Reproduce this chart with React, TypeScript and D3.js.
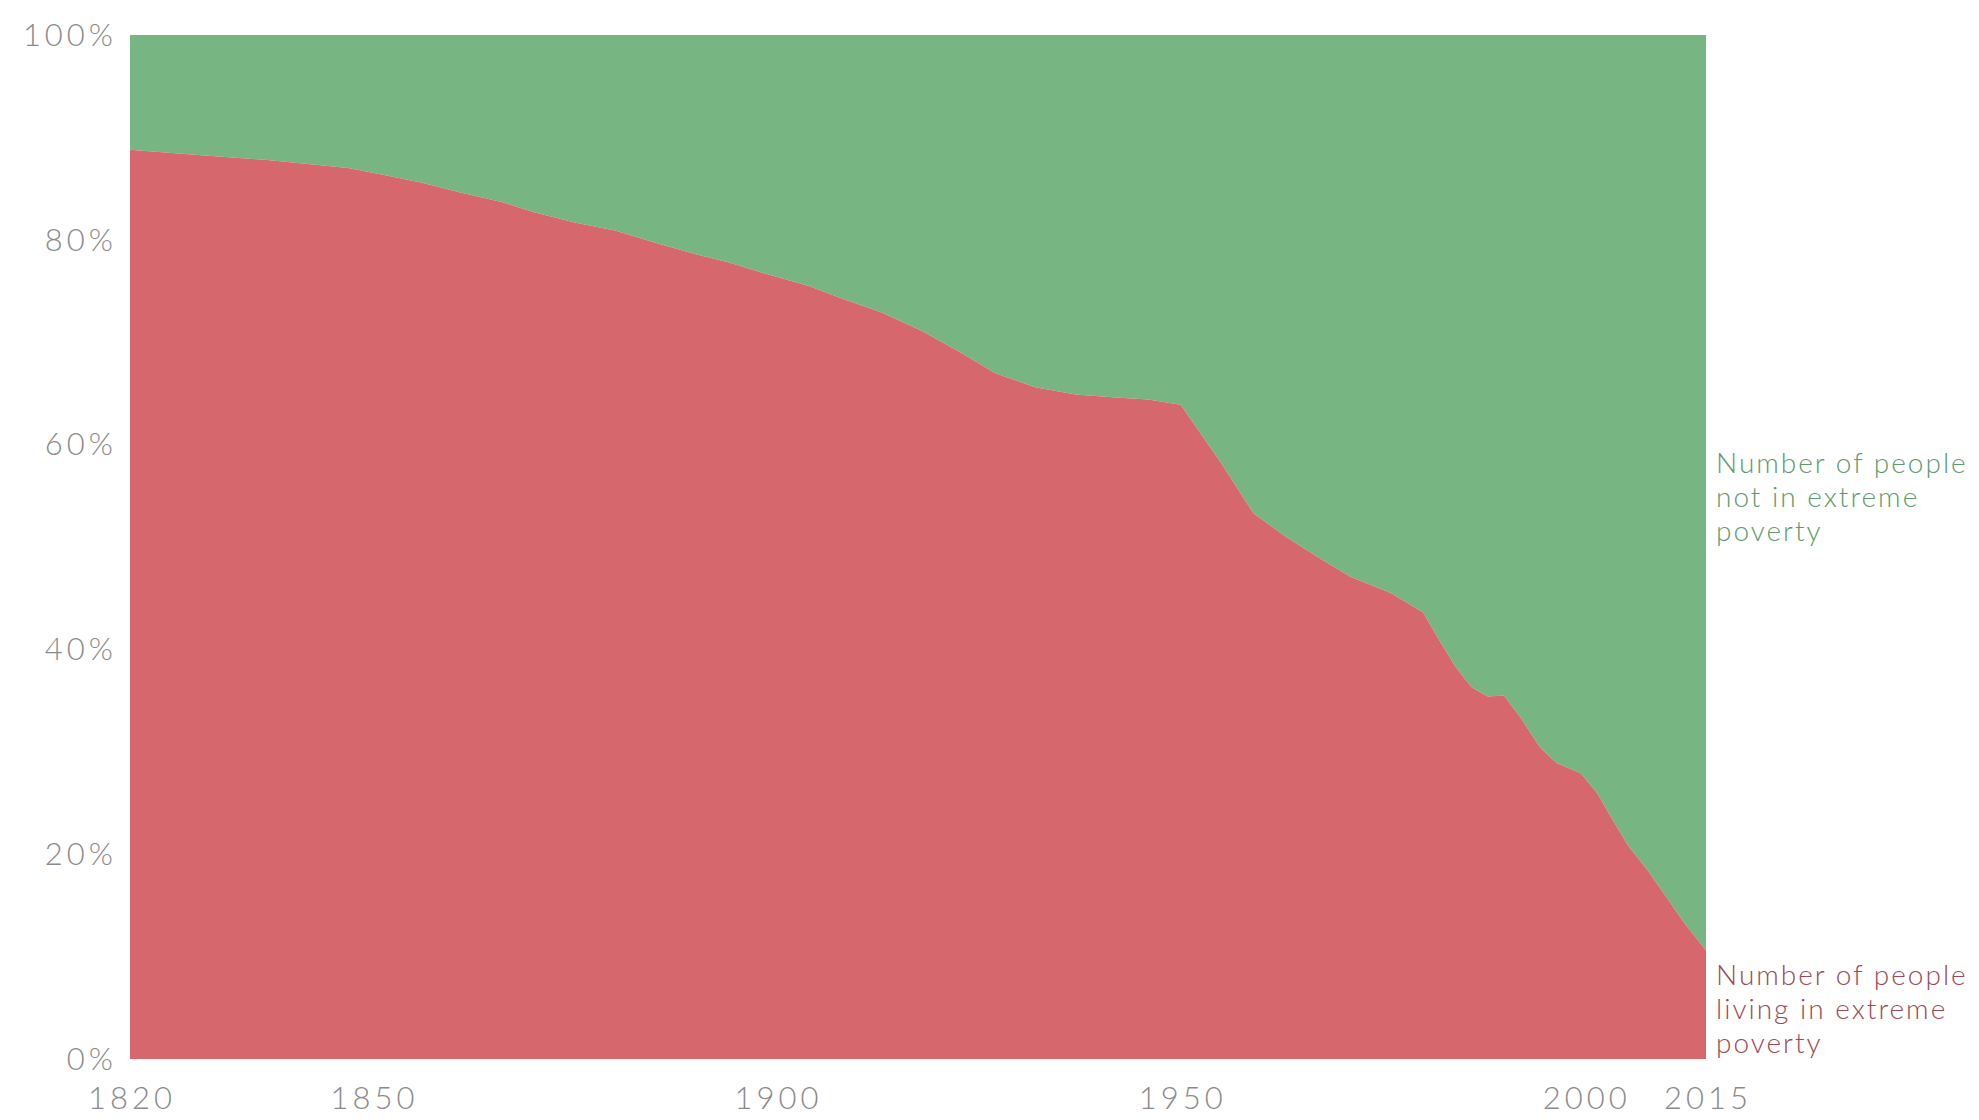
import React from "react";
import * as d3 from "d3";

const years = [1820, 1828, 1837, 1847, 1851, 1856, 1861, 1866, 1870, 1875, 1880, 1885, 1890, 1894, 1899, 1904, 1908, 1913, 1918, 1923, 1927, 1932, 1937, 1942, 1946, 1950, 1955, 1959, 1963, 1967, 1971, 1976, 1980, 1982, 1984, 1986, 1988, 1990, 1992, 1994.5, 1996.5, 1999.5, 2001.5, 2003.5, 2005.3, 2007.7, 2010.2, 2012.2, 2015];
const povertyShare = [88.8, 88.3, 87.8, 87.0, 86.4, 85.6, 84.6, 83.7, 82.7, 81.7, 80.9, 79.7, 78.6, 77.8, 76.6, 75.5, 74.3, 72.9, 71.1, 68.9, 67.0, 65.6, 64.9, 64.6, 64.4, 63.9, 58.2, 53.3, 51.0, 49.0, 47.1, 45.5, 43.6, 40.9, 38.3, 36.3, 35.4, 35.5, 33.4, 30.4, 28.9, 27.9, 26.0, 23.3, 20.9, 18.5, 15.7, 13.4, 10.6];

const xTicks = [1820, 1850, 1900, 1950, 2000, 2015];
const yTicks = [0, 20, 40, 60, 80, 100];
const seriesLabels = [
  { name: "Number of people not in extreme poverty", lines: ["Number of people", "not in extreme", "poverty"] },
  { name: "Number of people living in extreme poverty", lines: ["Number of people", "living in extreme", "poverty"] },
];

export default function App() {
  const W = 1979, H = 1120;
  const x = d3.scaleLinear().domain([1820, 2015]).range([130, 1706]);
  const y = d3.scaleLinear().domain([0, 100]).range([1059, 35]);
  const pts = years.map((yr, i) => ({ yr, p: povertyShare[i] }));
  const redArea = d3.area<{ yr: number; p: number }>()
    .x((d) => x(d.yr)).y0(() => y(0)).y1((d) => y(d.p));
  const greenArea = d3.area<{ yr: number; p: number }>()
    .x((d) => x(d.yr)).y0((d) => y(d.p)).y1(() => y(100));
  const font = "Lato, 'Open Sans', sans-serif";
  return (
    <svg width={W} height={H} style={{ position: "absolute", left: 0, top: 0, background: "#fff" }}>
      <path d={greenArea(pts) || ""} fill="#77b683" />
      <path d={redArea(pts) || ""} fill="#d6676d" />
      {yTicks.map((t) => (
        <text key={t} x={117} y={y(t)} dy="0.35em" textAnchor="end" fontFamily={font} fontSize={31} letterSpacing={4} fill="#8a8a8a" fontWeight={300}>
          {t}%
        </text>
      ))}
      {xTicks.map((t) => (
        <text key={t} x={x(t) + 2} y={1098} dy="0.35em" textAnchor="middle" fontFamily={font} fontSize={31} letterSpacing={4} fill="#8a8a8a" fontWeight={300}>
          {t}
        </text>
      ))}
      <text x={1716} y={463} fontFamily={font} fontSize={28} letterSpacing={2} fill="#5e9a6e" fontWeight={300}>
        {seriesLabels[0].lines.map((l, i) => (
          <tspan key={i} x={1716} dy={i === 0 ? "0.35em" : 34}>{l}</tspan>
        ))}
      </text>
      <text x={1716} y={975} fontFamily={font} fontSize={28} letterSpacing={2} fill="#9a4a55" fontWeight={300}>
        {seriesLabels[1].lines.map((l, i) => (
          <tspan key={i} x={1716} dy={i === 0 ? "0.35em" : 34}>{l}</tspan>
        ))}
      </text>
    </svg>
  );
}
